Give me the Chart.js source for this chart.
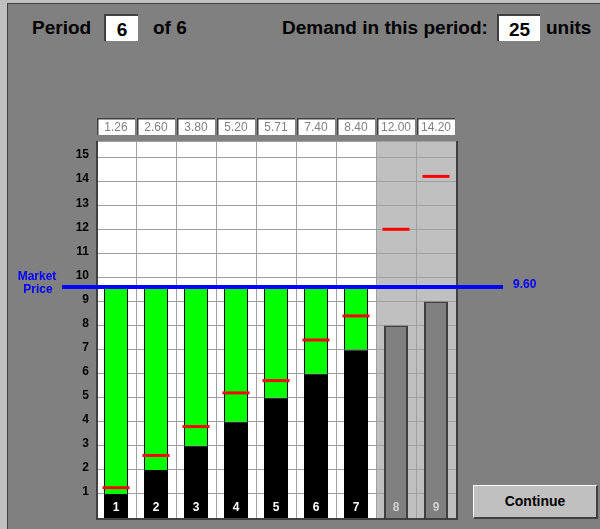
<!DOCTYPE html>
<html>
<head>
<meta charset="utf-8">
<script src="https://cdn.jsdelivr.net/npm/chart.js@4"></script>
<style>
  body { margin: 0; width: 600px; height: 529px; background: #c0c0c0; position: relative; overflow: hidden;
         font-family: "Liberation Sans", Arial, sans-serif; }
  .frame { position: absolute; left: 7px; top: 3px; right: 0; bottom: 0; background: #808080;
           border-left: 1px solid #404040; border-top: 1px solid #404040; }
  .lbl { position: absolute; top: 14px; height: 27px; line-height: 27px; font-weight: bold; font-size: 19px; color: #000; }
  .box { position: absolute; top: 14px; height: 25px; line-height: 27px; background: #fff; text-align: center;
         border-top: 2px solid #404040; border-left: 2px solid #404040; font-weight: bold; font-size: 19px; box-sizing: content-box; }
  .btn { position: absolute; left: 473px; top: 485px; width: 122px; height: 31px; background: #c0c0c0;
         border-top: 1px solid #fff; border-left: 1px solid #fff; border-right: 2px solid #404040; border-bottom: 2px solid #404040;
         font-weight: bold; font-size: 14px; text-align: center; line-height: 31px; }
  canvas { position: absolute; left: 0; top: 0; }
</style>
</head>
<body>
<div class="frame"></div>
<div class="lbl" style="left:32px">Period</div>
<div class="box" style="left:104px;width:32px">6</div>
<div class="lbl" style="left:153px">of 6</div>
<div class="lbl" style="left:282px">Demand in this period:</div>
<div class="box" style="left:497px;width:41px">25</div>
<div class="lbl" style="left:546px">units</div>
<div class="btn">Continue</div>
<canvas id="meuGrafico" width="600" height="529"></canvas>
<script>
// dados do periodo
const sellers = ["1", "2", "3", "4", "5", "6", "7", "8", "9"];
const barValues = [1, 2, 3, 4, 5, 6, 7, 8, 9];
const costs = [1.26, 2.60, 3.80, 5.20, 5.71, 7.40, 8.40, 12.00, 14.20];
const marketPrice = 9.60;
const yTicks = [1, 2, 3, 4, 5, 6, 7, 8, 9, 10, 11, 12, 13, 14, 15];

const sold = costs.map(c => c < marketPrice);
const greenData = barValues.map((v, i) => sold[i] ? [v, marketPrice] : null);
// traco vermelho do custo: barra flutuante fina (~3px)
const markHalf = 0.062;
const costMarks = costs.map(c => [c - markHalf, c + markHalf]);

const fundoColunas = {
    id: "fundoColunas",
    beforeDraw(chart) {
        const c = chart.ctx, a = chart.chartArea, x = chart.scales.x;
        const w = x.getPixelForValue(1) - x.getPixelForValue(0);
        c.save();
        sellers.forEach((s, i) => {
            c.fillStyle = sold[i] ? "#ffffff" : "#c0c0c0";
            c.fillRect(x.getPixelForValue(i) - w / 2, a.top, w, a.bottom - a.top);
        });
        // caixas dos custos no topo
        c.font = "12px 'Liberation Sans', Arial";
        c.textAlign = "center";
        c.textBaseline = "middle";
        costs.forEach((v, i) => {
            const cx = x.getPixelForValue(i);
            const bx = cx - 19, by = a.top - 23, bw = 38, bh = 17;
            c.fillStyle = "#ffffff";
            c.fillRect(bx, by, bw, bh);
            c.fillStyle = "#404040";
            c.fillRect(bx, by, bw, 1.5);
            c.fillRect(bx, by, 1.5, bh);
            c.fillStyle = "#808080";
            c.fillText(v.toFixed(2), cx, by + bh / 2 + 1);
        });
        c.restore();
    },
    afterDatasetsDraw(chart) {
        const c = chart.ctx, a = chart.chartArea, y = chart.scales.y;
        const meta = chart.getDatasetMeta(1);
        c.save();
        // numeros dentro das barras
        c.font = "bold 12px 'Liberation Sans', Arial";
        c.textAlign = "center";
        c.textBaseline = "middle";
        meta.data.forEach((bar, i) => {
            c.fillStyle = sold[i] ? "#ffffff" : "#d0d0d0";
            c.fillText(sellers[i], bar.x, a.bottom - 10);
        });
        // moldura
        c.strokeStyle = "#a0a0a0";
        c.lineWidth = 1;
        c.beginPath();
        c.moveTo(a.left, a.top + 0.5);
        c.lineTo(a.right, a.top + 0.5);
        c.stroke();
        c.strokeStyle = "#404040";
        c.lineWidth = 2;
        c.beginPath();
        c.moveTo(a.left + 1, a.top);
        c.lineTo(a.left + 1, a.bottom + 1);
        c.lineTo(a.right + 1, a.bottom + 1);
        c.lineTo(a.right + 1, a.top);
        c.stroke();
        // linha do preco de mercado
        const py = y.getPixelForValue(marketPrice);
        c.strokeStyle = "#0000ff";
        c.lineWidth = 4;
        c.beginPath();
        c.moveTo(a.left - 34, py);
        c.lineTo(a.right + 47, py);
        c.stroke();
        c.fillStyle = "#0000ff";
        c.font = "bold 12px 'Liberation Sans', Arial";
        c.fillText("Market", 37, py - 10);
        c.fillText("Price", 38, py + 3);
        c.textAlign = "left";
        c.fillText(marketPrice.toFixed(2), a.right + 57, py - 2);
        c.restore();
    }
};

new Chart(document.getElementById("meuGrafico").getContext("2d"), {
    type: "bar",
    data: {
        labels: sellers,
        datasets: [{
            label: "margem",
            data: greenData,
            backgroundColor: "#00ff00",
            borderColor: "#000000",
            borderWidth: 1,
            grouped: false,
            order: 2
        }, {
            label: "unidades",
            data: barValues,
            backgroundColor: sold.map(s => s ? "#000000" : "#808080"),
            borderColor: sold.map(s => s ? "#000000" : "#404040"),
            borderWidth: sold.map(s => s ? 1 : 2),
            grouped: false,
            order: 2
        }, {
            label: "custo",
            data: costMarks,
            backgroundColor: "#ff0000",
            borderWidth: 0,
            barPercentage: 0.675,
            grouped: false,
            order: 0
        }]
    },
    options: {
        responsive: false,
        animation: false,
        events: [],
        datasets: {
            bar: { categoryPercentage: 1, barPercentage: 0.6 }
        },
        layout: { padding: { left: 56, right: 144, top: 141, bottom: 11 } },
        plugins: { legend: { display: false }, tooltip: { enabled: false } },
        scales: {
            x: {
                offset: true,
                grid: { offset: true, color: "#a0a0a0", drawTicks: false },
                border: { display: false },
                ticks: { display: false },
                afterFit: s => { s.height = 0; }
            },
            y: {
                min: 0,
                max: 15.67,
                grid: { color: "#a0a0a0", drawTicks: true, tickLength: 7, tickColor: "rgba(0,0,0,0)" },
                border: { display: false },
                afterBuildTicks: s => { s.ticks = yTicks.map(v => ({ value: v })); },
                afterFit: s => { s.width = 40; },
                ticks: {
                    color: "#000000",
                    padding: 0,
                    labelOffset: -2,
                    font: { family: "'Liberation Sans', Arial", size: 12, weight: "bold" }
                }
            }
        }
    },
    plugins: [fundoColunas]
});
</script>
</body>
</html>
